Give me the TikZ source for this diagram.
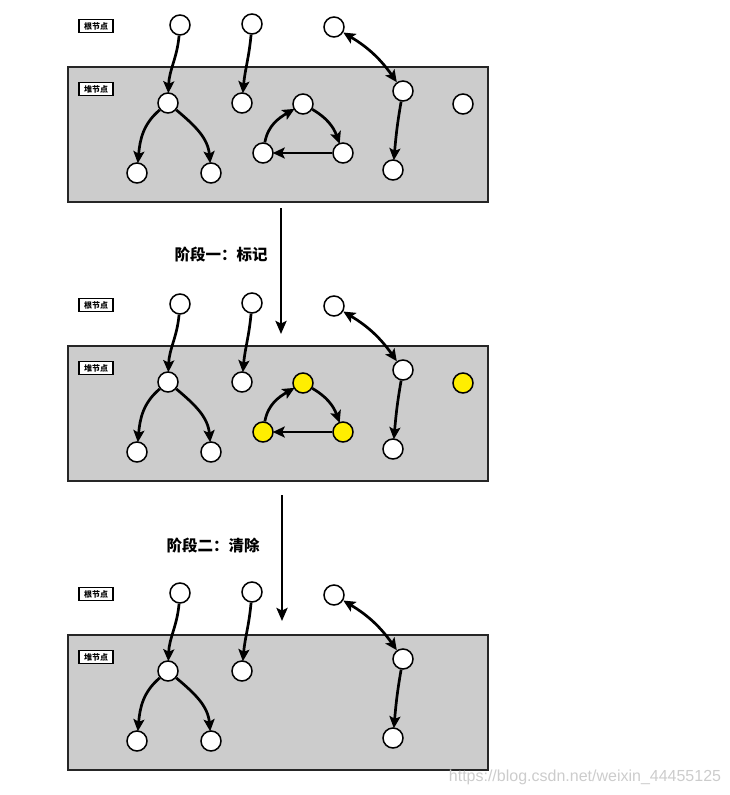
\documentclass[tikz,border=0pt]{standalone}
\usepackage{fontspec}
\newfontfamily\cjk{Noto Sans CJK SC}
\newfontfamily\wmfont{Liberation Sans}
\usetikzlibrary{positioning}
\usetikzlibrary{arrows.meta}

\definecolor{heapgray}{RGB}{204,204,204}
\definecolor{marked}{RGB}{255,238,0}

\tikzset{
    obj/.style={circle, draw=black, line width=1.5pt, fill=white, minimum size=20pt, inner sep=0pt},
    tag/.style={draw=black, line width=1.8pt, fill=white, minimum width=34pt, minimum height=13pt, inner sep=1pt, font=\cjk\bfseries\fontsize{8}{9}\selectfont},
    ref/.style={line width=2.7pt, shorten >=-1pt, -{Stealth[length=12pt,width=11pt,inset=2.5pt]}},
    bothref/.style={line width=2.7pt, {Stealth[length=12pt,width=11pt,inset=2.5pt]}-{Stealth[length=12pt,width=11pt,inset=2.5pt]}},
    heap/.style={draw=black!85, line width=2pt, fill=heapgray},
    stage/.style={font=\cjk\bfseries\fontsize{15.5}{18}\selectfont},
    phase/.style={line width=2.6pt, -{Stealth[length=13pt,width=11pt,inset=2.5pt]}}
}

\begin{document}
\begin{tikzpicture}[x=1pt, y=1pt]
    \useasboundingbox (0,0) rectangle (730,-795);

    \foreach \p/\dy in {1/0, 2/-279, 3/-568}{
        \begin{scope}[yshift=\dy pt]
            \draw[heap] (68,-67) rectangle (488,-202);
            \node[tag] (rootTag\p) at (96,-26) {根节点};
            \node[tag] (heapTag\p) at (96,-89) {堆节点};

            % roots
            \node[obj] (rootA\p) at (180,-25) {};
            \node[obj] (rootB\p) at (252,-24) {};
            \node[obj] (rootC\p) at (334,-27) {};

            % reachable heap objects
            \node[obj] (heapA\p) at (168,-103) {};
            \node[obj] (heapB\p) at (242,-103) {};
            \node[obj] (heapD\p) at (137,-173) {};
            \node[obj] (heapE\p) at (211,-173) {};
            \node[obj] (heapH\p) at (403,-91) {};
            \node[obj] (heapJ\p) at (393,-170) {};

            \draw[ref] (rootA\p) to[out=-95, in=88] (heapA\p);
            \draw[ref] (rootB\p) to[out=-95, in=85] (heapB\p);
            \draw[bothref] (rootC\p) to[bend left=12] (heapH\p);
            \draw[ref] (heapA\p) to[out=-140, in=85] (heapD\p);
            \draw[ref] (heapA\p) to[out=-40, in=95] (heapE\p);
            \draw[ref] (heapH\p) to[out=-100, in=85] (heapJ\p);

            % garbage (marked in stage one, swept in stage two)
            \ifnum\p=2 \def\gcfill{marked}\else\def\gcfill{white}\fi
            \ifnum\p<3
                \node[obj, fill=\gcfill] (heapC\p) at (303,-104) {};
                \node[obj, fill=\gcfill] (heapF\p) at (263,-153) {};
                \node[obj, fill=\gcfill] (heapG\p) at (343,-153) {};
                \node[obj, fill=\gcfill] (heapI\p) at (463,-104) {};
                \draw[ref] (heapF\p) to[out=80, in=210] (heapC\p);
                \draw[ref] (heapC\p) to[out=-30, in=110] (heapG\p);
                \draw[ref] (heapG\p) -- (heapF\p);
            \fi
        \end{scope}
    }

    % stages
    \coordinate (markFrom) at (281,-208);
    \coordinate (markTo) at (281,-334);
    \coordinate (sweepFrom) at (282,-495);
    \coordinate (sweepTo) at (282,-621);
    \draw[phase] (markFrom) -- (markTo);
    \draw[phase] (sweepFrom) -- (sweepTo);
    \node[stage] (markLabel) at (221,-255) {阶段一：标记};
    \node[stage] (sweepLabel) at (213,-546) {阶段二：清除};

    \node[font=\wmfont\fontsize{16}{18}\selectfont, text=black!20] (watermark) at (585,-777) {https://blog.csdn.net/weixin\_44455125};
\end{tikzpicture}
\end{document}
